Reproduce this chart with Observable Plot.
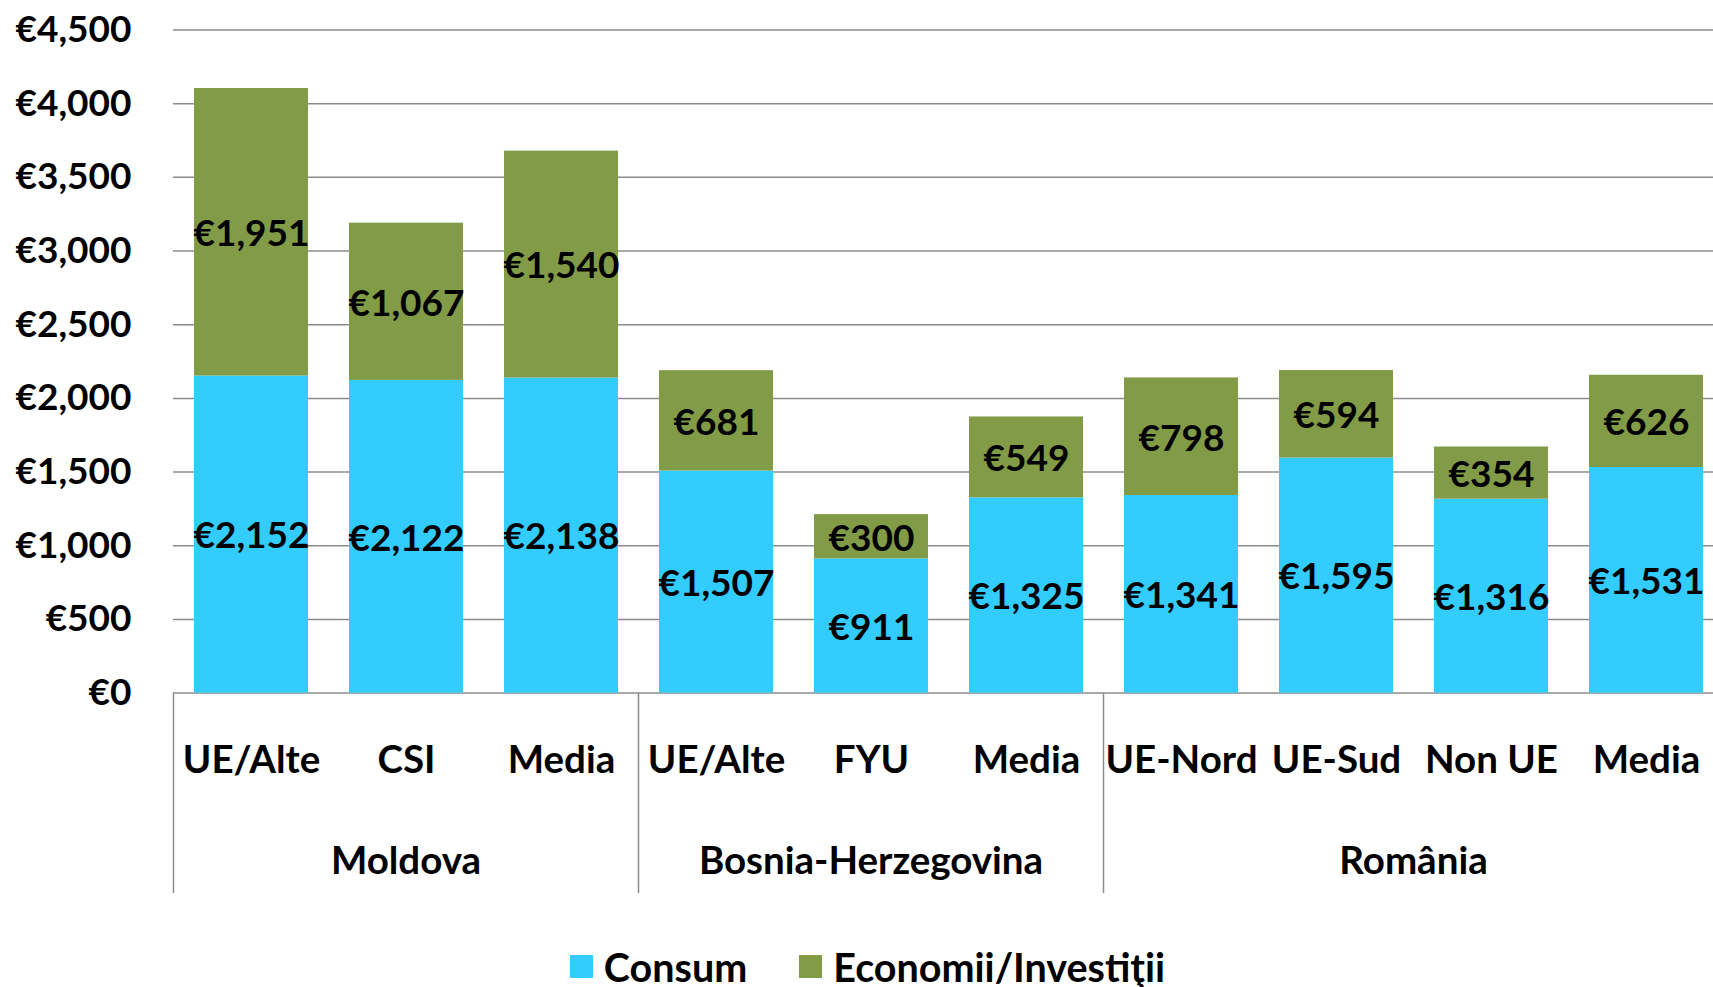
<!DOCTYPE html>
<html>
<head>
<meta charset="utf-8">
<script src="https://cdn.jsdelivr.net/npm/d3@7"></script>
<script src="https://cdn.jsdelivr.net/npm/@observablehq/plot@0.6"></script>
<style>
  html, body { margin: 0; padding: 0; background: #fff; overflow: hidden; }
  #chart svg { display: block; }
  .legend { display: flex; justify-content: center; align-items: center; height: 47px; padding-top: 3px;
    font-family: Lato, sans-serif; font-weight: bold; font-size: 39.5px; color: #000; padding-left: 22px; }
  .legend .item { display: flex; align-items: center; margin: 0 26px; }
  .legend .sw { width: 23px; height: 23px; margin-right: 11px; }
</style>
</head>
<body>
<div id="chart"></div>
<div class="legend" id="legend"></div>
<script>
// ---- data ----
const country = ["Moldova", "Moldova", "Moldova",
  "Bosnia-Herzegovina", "Bosnia-Herzegovina", "Bosnia-Herzegovina",
  "România", "România", "România", "România"];
const destination = ["UE/Alte", "CSI", "Media", "UE/Alte", "FYU", "Media", "UE-Nord", "UE-Sud", "Non UE", "Media"];
const consum = [2152, 2122, 2138, 1507, 911, 1325, 1341, 1595, 1316, 1531];
const economii = [1951, 1067, 1540, 681, 300, 549, 798, 594, 354, 626];
const series = ["Consum", "Economii/Investiţii"];
const colors = ["#33CCFF", "#819B47"];
const yTicks = [0, 500, 1000, 1500, 2000, 2500, 3000, 3500, 4000, 4500];
const countries = ["Moldova", "Bosnia-Herzegovina", "România"];

// ---- derived table ----
const keys = country.map((c, i) => c + "|" + destination[i]);
const rows = [];
keys.forEach((k, i) => rows.push({key: k, series: series[0], value: consum[i]}));
keys.forEach((k, i) => rows.push({key: k, series: series[1], value: economii[i]}));
const fmt = d => "€" + d3.format(",")(d);

const FONT = "Lato, sans-serif";
const FS = 37;      // numbers
const FSL = 38.5;   // word labels
const GRID = "#8c8c8c";

function groupMark(index, scales, values, dims) {
  const x = scales.x, y = scales.y;
  const bw = typeof x.bandwidth === "function" ? x.bandwidth() : scales.scales.x.bandwidth;
  const step = typeof x.step === "function" ? x.step() : scales.scales.x.step;
  const gap = (step - bw) / 2;
  const y0 = y(0);
  const g = d3.create("svg:g");
  const edges = [];
  countries.forEach(c => {
    const ks = keys.filter(k => k.startsWith(c + "|"));
    const a = x(ks[0]) - gap;
    const b = x(ks[ks.length - 1]) + bw + gap;
    edges.push(a, b);
    g.append("text")
      .attr("x", (a + b) / 2).attr("y", y0 + 168).attr("dy", "0.35em")
      .attr("text-anchor", "middle").attr("font-family", FONT)
      .attr("font-weight", "bold").attr("font-size", FSL).attr("fill", "#000")
      .text(c);
  });
  Array.from(new Set(edges.map(e => Math.round(e * 10) / 10))).forEach(e => {
    g.append("line").attr("x1", e).attr("x2", e).attr("y1", y0).attr("y2", y0 + 200.5)
      .attr("stroke", GRID).attr("stroke-width", 1.5);
  });
  return g.node();
}

const H = 940;
const chart = Plot.plot({
  width: 1713,
  height: H,
  marginLeft: 173,
  marginRight: 0,
  marginTop: 29.5,
  marginBottom: H - 692.6,
  style: {fontFamily: FONT, fontWeight: "bold", fontSize: FS + "px", color: "#000", background: "transparent"},
  x: {type: "band", domain: keys, range: [173, 1723], paddingInner: 0.267, paddingOuter: 0.1335, axis: null},
  y: {domain: [0, 4500], label: null},
  color: {domain: series, range: colors},
  marks: [
    Plot.ruleY(yTicks, {stroke: GRID, strokeWidth: 1.5}),
    Plot.axisY(yTicks, {tickSize: 0, tickPadding: 42, tickFormat: fmt, label: null,
      fontSize: FS, fontWeight: "bold", fontFamily: FONT, fill: "#000"}),
    Plot.barY(rows, {x: "key", y: "value", fill: "series"}),
    Plot.text(rows, Plot.stackY({x: "key", y: "value", text: d => fmt(d.value), dy: 2,
      fontSize: FS, fontWeight: "bold", fontFamily: FONT, fill: "#000"})),
    Plot.text(keys, {x: d => d, text: (d, i) => destination[i], frameAnchor: "bottom",
      dy: 68, lineAnchor: "middle", fontSize: FSL, fontWeight: "bold", fontFamily: FONT, fill: "#000"}),
    groupMark
  ]
});
document.getElementById("chart").appendChild(chart);

const legend = document.getElementById("legend");
series.forEach((s, i) => {
  const it = document.createElement("div");
  it.className = "item";
  const sw = document.createElement("div");
  sw.className = "sw";
  sw.style.background = colors[i];
  const t = document.createElement("span");
  t.textContent = s;
  it.appendChild(sw); it.appendChild(t);
  legend.appendChild(it);
});
</script>
</body>
</html>
